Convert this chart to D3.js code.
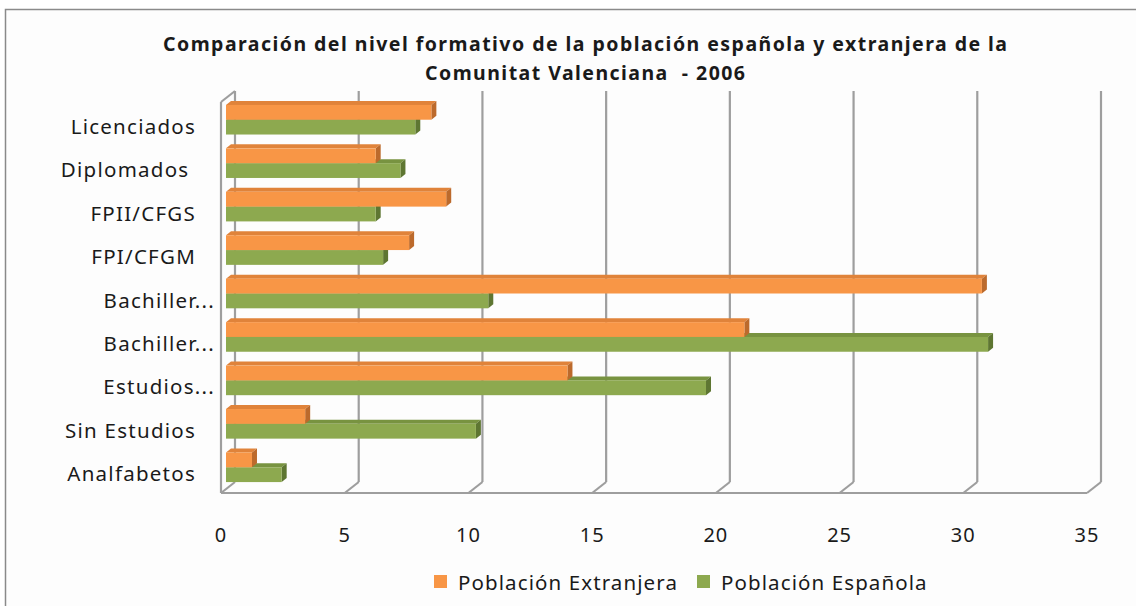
<!DOCTYPE html>
<html>
<head>
<meta charset="utf-8">
<script src="https://cdn.jsdelivr.net/npm/d3@7"></script>
<style>
html,body{margin:0;padding:0;background:#fff;}
svg{display:block;}
text{font-family:"Noto Sans","Open Sans",sans-serif;fill:#1a1a1a;}
</style>
</head>
<body>
<svg id="chart" width="1136" height="606"></svg>
<script>
// ---- data ----
const categories = ["Licenciados", "Diplomados ", "FPII/CFGS", "FPI/CFGM", "Bachiller...", "Bachiller...", "Estudios...", "Sin Estudios", "Analfabetos"];
const extranjera = [8.3, 6.05, 8.9, 7.4, 30.55, 20.95, 13.8, 3.2, 1.05];
const espanola   = [7.65, 7.05, 6.05, 6.35, 10.6, 30.8, 19.4, 10.1, 2.25];
const tickValues = [0, 5, 10, 15, 20, 25, 30, 35];
const seriesNames = ["Población Extranjera", "Población Española"];
const titleLines = ["Comparación del nivel formativo de la población española y extranjera de la", "Comunitat Valenciana  - 2006"];

// ---- layout ----
const svg = d3.select("#chart");
const W = 1136, H = 606;
const colors = {
  ext: {front: "#F89646", top: "#E0833A", side: "#BC6A2C"},
  esp: {front: "#8DA94F", top: "#789340", side: "#5E7632"}
};
const grid = "#9E9E9E";

svg.append("rect").attr("x", 0).attr("y", 0).attr("width", W).attr("height", H).attr("fill", "#fff");
svg.append("rect").attr("x", 5.5).attr("y", 9.5).attr("width", W + 10).attr("height", H + 10)
  .attr("fill", "#FDFDFD").attr("stroke", "#8A8A8A").attr("stroke-width", 1.5);

// 3D geometry
const depthDX = 14, depthDY = 11;
const frontTop = 102, frontBottom = 493;
const backTop = frontTop - depthDY, backBottom = frontBottom - depthDY;
const xFront = d3.scaleLinear().domain([0, 35]).range([221, 1087]);
const xBack = d3.scaleLinear().domain([0, 35]).range([221 + depthDX, 1087 + depthDX]);
const barShift = 5, barShiftY = 4;
const xBar = d3.scaleLinear().domain([0, 35]).range([221 + barShift, 1087 + barShift]);
const yBand = d3.scaleBand().domain(d3.range(categories.length))
  .range([frontTop - barShiftY, frontBottom - barShiftY]).padding(0);
const barH = 14.8;
const bdx = 5, bdy = 4;

const g = svg.append("g");
tickValues.forEach(v => {
  g.append("line").attr("x1", xBack(v)).attr("x2", xBack(v)).attr("y1", backTop).attr("y2", backBottom)
    .attr("stroke", grid).attr("stroke-width", 2.2);
  g.append("line").attr("x1", xBack(v)).attr("x2", xFront(v)).attr("y1", backBottom).attr("y2", frontBottom)
    .attr("stroke", grid).attr("stroke-width", 2.2);
});
g.append("line").attr("x1", xFront(0)).attr("x2", xFront(35)).attr("y1", frontBottom).attr("y2", frontBottom)
  .attr("stroke", grid).attr("stroke-width", 2.2);
g.append("line").attr("x1", xFront(0)).attr("x2", xFront(0)).attr("y1", frontTop).attr("y2", frontBottom)
  .attr("stroke", grid).attr("stroke-width", 2.2);
g.append("line").attr("x1", xFront(0)).attr("x2", xBack(0)).attr("y1", frontTop).attr("y2", backTop)
  .attr("stroke", grid).attr("stroke-width", 2.2);

function bar3d(parent, v, y, c) {
  const x0 = xBar(0), x1 = xBar(v);
  parent.append("polygon")
    .attr("points", [[x0, y], [x0 + bdx, y - bdy], [x1 + bdx, y - bdy], [x1, y]].join(" "))
    .attr("fill", c.top);
  parent.append("polygon")
    .attr("points", [[x1, y], [x1 + bdx, y - bdy], [x1 + bdx, y + barH - bdy], [x1, y + barH]].join(" "))
    .attr("fill", c.side);
  parent.append("rect").attr("x", x0).attr("y", y).attr("width", x1 - x0).attr("height", barH)
    .attr("fill", c.front);
}
const bars = svg.append("g");
categories.forEach((c, i) => {
  const center = yBand(i) + yBand.bandwidth() / 2;
  bar3d(bars, espanola[i], center, colors.esp);
  bar3d(bars, extranjera[i], center - barH, colors.ext);
});

svg.append("g").selectAll("text").data(categories).join("text")
  .attr("x", d => d.endsWith("...") ? 215 : 196)
  .attr("y", (d, i) => yBand(i) + yBand.bandwidth() / 2 + 6)
  .attr("text-anchor", "end").attr("dominant-baseline", "central")
  .attr("font-size", 20.5).attr("letter-spacing", 1.25)
  .style("white-space", "pre").text(d => d);

svg.append("g").selectAll("text").data(tickValues).join("text")
  .attr("x", d => xFront(d)).attr("y", 534)
  .attr("text-anchor", "middle").attr("dominant-baseline", "central")
  .attr("font-size", 20).attr("letter-spacing", 1).text(d => d);

svg.append("g").selectAll("text").data(titleLines).join("text")
  .attr("x", 585).attr("y", (d, i) => 43 + i * 29)
  .attr("text-anchor", "middle").attr("dominant-baseline", "central")
  .attr("font-size", 19.5).attr("font-weight", "bold")
  .style("white-space", "pre")
  .attr("textLength", (d, i) => i === 0 ? 844 : 320).attr("lengthAdjust", "spacing")
  .text(d => d);

const legend = svg.append("g");
const legX = [434, 697];
seriesNames.forEach((s, i) => {
  legend.append("rect").attr("x", legX[i]).attr("y", 575).attr("width", 13).attr("height", 13)
    .attr("fill", i === 0 ? colors.ext.front : colors.esp.front);
  legend.append("text").attr("x", legX[i] + 24).attr("y", 582)
    .attr("dominant-baseline", "central").attr("font-size", 20.5).attr("letter-spacing", 1.1).text(s);
});
</script>
</body>
</html>
